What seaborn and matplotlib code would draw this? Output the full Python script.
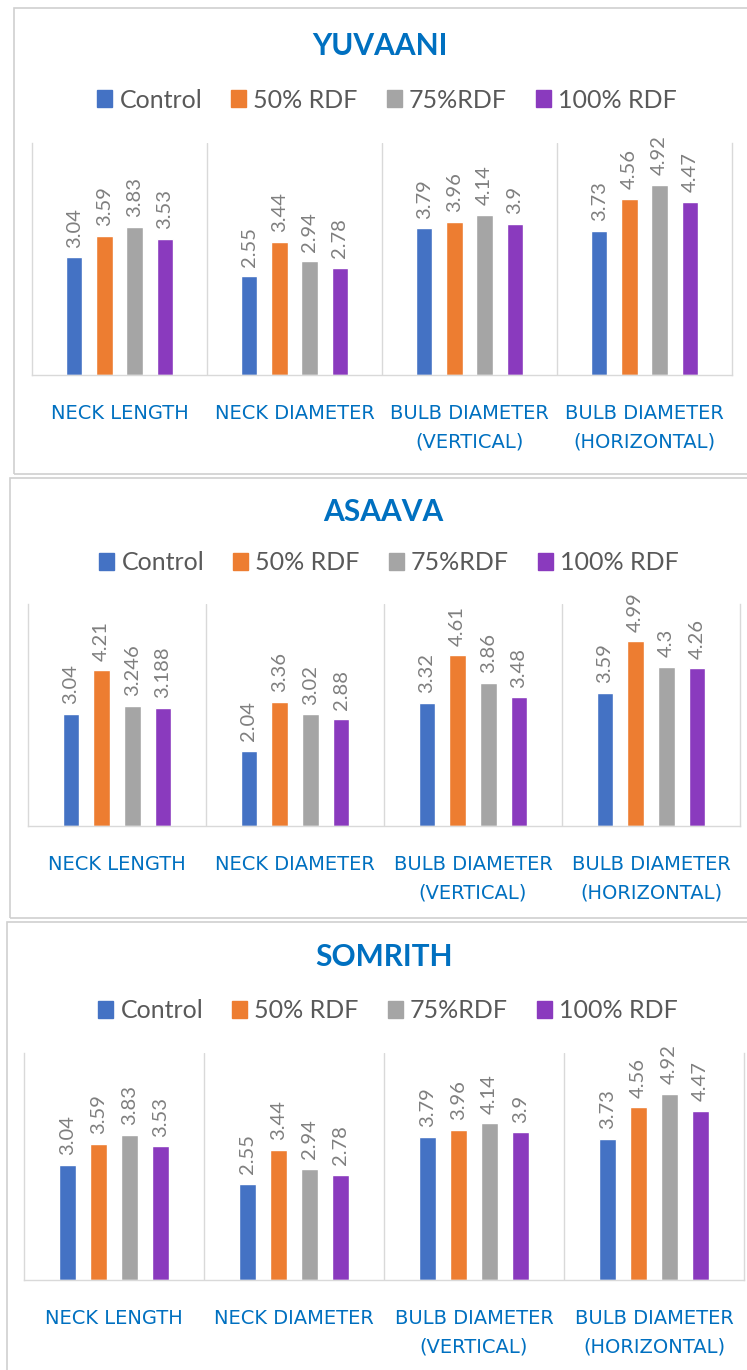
import pandas as pd
import matplotlib
matplotlib.use("Agg")
import matplotlib.pyplot as plt
from matplotlib.patches import Rectangle
import seaborn as sns

# data
traits = ["NECK LENGTH", "NECK DIAMETER", "BULB DIAMETER\n(VERTICAL)", "BULB DIAMETER\n(HORIZONTAL)"]
treatments = ["Control", "50% RDF", "75%RDF", "100% RDF"]
colors = ["#4472C4", "#ED7D31", "#A5A5A5", "#8A3ABE"]

yuvaani_control = [3.04, 2.55, 3.79, 3.73]
yuvaani_rdf50 = [3.59, 3.44, 3.96, 4.56]
yuvaani_rdf75 = [3.83, 2.94, 4.14, 4.92]
yuvaani_rdf100 = [3.53, 2.78, 3.9, 4.47]

asaava_control = [3.04, 2.04, 3.32, 3.59]
asaava_rdf50 = [4.21, 3.36, 4.61, 4.99]
asaava_rdf75 = [3.246, 3.02, 3.86, 4.3]
asaava_rdf100 = [3.188, 2.88, 3.48, 4.26]

somrith_control = [3.04, 2.55, 3.79, 3.73]
somrith_rdf50 = [3.59, 3.44, 3.96, 4.56]
somrith_rdf75 = [3.83, 2.94, 4.14, 4.92]
somrith_rdf100 = [3.53, 2.78, 3.9, 4.47]

varieties = {
    "YUVAANI": [yuvaani_control, yuvaani_rdf50, yuvaani_rdf75, yuvaani_rdf100],
    "ASAAVA": [asaava_control, asaava_rdf50, asaava_rdf75, asaava_rdf100],
    "SOMRITH": [somrith_control, somrith_rdf50, somrith_rdf75, somrith_rdf100],
}

def long_table(series):
    rows = []
    for t, vals in zip(treatments, series):
        for trait, v in zip(traits, vals):
            rows.append({"trait": trait, "treatment": t, "value": v})
    return pd.DataFrame(rows)

sns.set_theme(style="white")
plt.rcParams["font.family"] = ["Lato", "DejaVu Sans"]

W, H = 747, 1370
fig = plt.figure(figsize=(W / 100, H / 100), dpi=100)

# pixel layout: (axes left, right, top, bottom), border box, title y, legend y
layout = [
    dict(ax=(32, 732, 143, 375), box=(14, 8, 760, 474), title=(380, 46), leg=(387, 100)),
    dict(ax=(28, 740, 604, 826), box=(10, 478, 760, 918), title=(383, 512), leg=(389, 563)),
    dict(ax=(24, 744, 1053, 1280), box=(7, 922, 760, 1372), title=(384, 957), leg=(388, 1011)),
]

grid_col = "#D9D9D9"
blue = "#0070C0"

for (name, series), lay in zip(varieties.items(), layout):
    x0, y0, x1, y1 = lay["box"]
    fig.patches.append(Rectangle((x0 / W, 1 - y1 / H), (x1 - x0) / W, (y1 - y0) / H,
                                 transform=fig.transFigure, fill=False,
                                 edgecolor="#D0D0D0", linewidth=1.2))
    l, r, t, b = lay["ax"]
    ax = fig.add_axes([l / W, 1 - b / H, (r - l) / W, (b - t) / H])
    df = long_table(series)
    sns.barplot(data=df, x="trait", y="value", hue="treatment", order=traits,
                hue_order=treatments, palette=colors, width=0.69, gap=0.46,
                saturation=1, ax=ax, legend=False)
    for cont, vals in zip(ax.containers, series):
        ax.bar_label(cont, labels=[f"{v:g}" for v in vals], rotation=90,
                     padding=7, color="#7F7F7F", fontsize=14.5)
    ax.set_ylim(0, 6)
    ax.set_xlim(-0.5, 3.5)
    for xv in [0.5, 1.5, 2.5]:
        ax.axvline(xv, color=grid_col, lw=1)
    for s in ["left", "right", "bottom"]:
        ax.spines[s].set_color(grid_col)
        ax.spines[s].set_linewidth(1)
    ax.spines["top"].set_visible(False)
    ax.set_yticks([])
    ax.set_xlabel("")
    ax.set_ylabel("")
    ax.tick_params(axis="x", length=0, pad=21, labelsize=14, labelcolor=blue,
                   labelfontfamily="DejaVu Sans")
    for lab in ax.get_xticklabels():
        lab.set_linespacing(1.6)

    tx, ty = lay["title"]
    fig.text(tx / W, 1 - ty / H, name, ha="center", va="center",
             fontsize=21.5, fontweight="bold", color=blue)

    handles = [Rectangle((0, 0), 1, 1, color=c) for c in colors]
    lx, ly = lay["leg"]
    fig.legend(handles, treatments, loc="center", bbox_to_anchor=(lx / W, 1 - ly / H),
               ncol=4, frameon=False, fontsize=18, handlelength=0.6, handleheight=0.66,
               handletextpad=0.3, columnspacing=1.15, labelcolor="#595959")

fig.savefig("out.png", dpi=100)
